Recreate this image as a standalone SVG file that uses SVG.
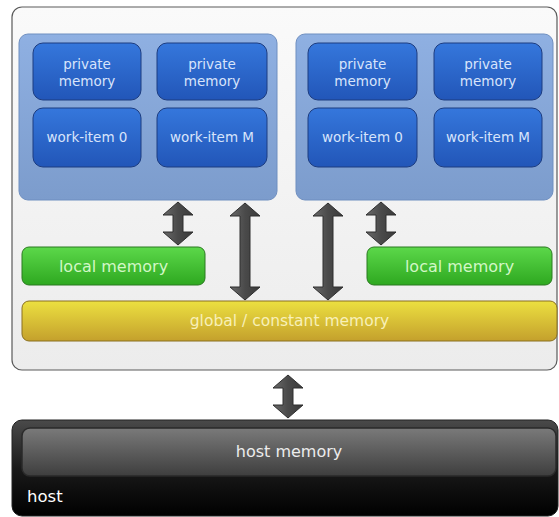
<svg xmlns="http://www.w3.org/2000/svg" width="559" height="517" viewBox="0 0 559 517">
<defs>
<linearGradient id="gDev" x1="0" y1="0" x2="0" y2="1"><stop offset="0" stop-color="#fafafa"/><stop offset="1" stop-color="#ececec"/></linearGradient>
<linearGradient id="gGrp" x1="0" y1="0" x2="0" y2="1"><stop offset="0" stop-color="#8fb0e2"/><stop offset="1" stop-color="#7c9ccc"/></linearGradient>
<linearGradient id="gItem" x1="0" y1="0" x2="0" y2="1"><stop offset="0" stop-color="#3577dc"/><stop offset="1" stop-color="#2256b8"/></linearGradient>
<linearGradient id="gLocal" x1="0" y1="0" x2="0" y2="1"><stop offset="0" stop-color="#5cd84a"/><stop offset="1" stop-color="#2ea820"/></linearGradient>
<linearGradient id="gGlobal" x1="0" y1="0" x2="0" y2="1"><stop offset="0" stop-color="#ece040"/><stop offset="1" stop-color="#c4a02c"/></linearGradient>
<linearGradient id="gHost" x1="0" y1="0" x2="0" y2="1"><stop offset="0" stop-color="#4a4a4a"/><stop offset="0.5" stop-color="#1a1a1a"/><stop offset="1" stop-color="#000"/></linearGradient>
<linearGradient id="gHostMem" x1="0" y1="0" x2="0" y2="1"><stop offset="0" stop-color="#7a7a7a"/><stop offset="1" stop-color="#3e3e3e"/></linearGradient>
<linearGradient id="gArrow" x1="0" y1="0" x2="1" y2="0"><stop offset="0" stop-color="#6a6a6a"/><stop offset="0.5" stop-color="#4a4a4a"/><stop offset="1" stop-color="#3a3a3a"/></linearGradient>
</defs>
<style>
.dev{fill:url(#gDev);stroke:#5a5a5a;stroke-width:1.2}
.grp{fill:url(#gGrp);stroke:#6f8fc0;stroke-width:1}
.item{fill:url(#gItem);stroke:#1c3c80;stroke-width:1}
.local{fill:url(#gLocal);stroke:#2a7a20;stroke-width:1}
.global{fill:url(#gGlobal);stroke:#8a7020;stroke-width:1}
.host{fill:url(#gHost);stroke:#222;stroke-width:1}
.hostmem{fill:url(#gHostMem);stroke:#2a2a2a;stroke-width:1.5}
.arr{fill:url(#gArrow);stroke:#2e2e2e;stroke-width:1}
text{font-family:"DejaVu Sans",Verdana,sans-serif;text-anchor:middle}
.ti{font-size:13.5px;fill:#d8e4fb}
.tl{font-size:16px;fill:#d2f7c6}
.tg{font-size:15.5px;fill:#f8f0b8}
.th{font-size:16px;fill:#ececec}
</style>
<rect x="0" y="0" width="559" height="517" fill="#ffffff"/>
<g id="device">
<rect class="dev" x="12" y="7" width="545" height="363" rx="10"/>
</g>
<g id="workgroup1">
<rect class="grp" x="19" y="34" width="258" height="166" rx="9"/>
</g>
<g id="workgroup2">
<rect class="grp" x="296" y="34" width="257" height="166" rx="9"/>
</g>
<g id="pm1"><rect class="item" x="33" y="43" width="108" height="57" rx="10"/><text class="ti" x="87" y="69">private</text><text class="ti" x="87" y="86">memory</text></g>
<g id="pm2"><rect class="item" x="157" y="43" width="110" height="57" rx="10"/><text class="ti" x="212" y="69">private</text><text class="ti" x="212" y="86">memory</text></g>
<g id="wi1"><rect class="item" x="33" y="108" width="108" height="59" rx="10"/><text class="ti" x="87" y="142">work-item 0</text></g>
<g id="wi2"><rect class="item" x="157" y="108" width="110" height="59" rx="10"/><text class="ti" x="212" y="142">work-item M</text></g>
<g id="pm3"><rect class="item" x="308" y="43" width="109" height="57" rx="10"/><text class="ti" x="362.5" y="69">private</text><text class="ti" x="362.5" y="86">memory</text></g>
<g id="pm4"><rect class="item" x="434" y="43" width="108" height="57" rx="10"/><text class="ti" x="488" y="69">private</text><text class="ti" x="488" y="86">memory</text></g>
<g id="wi3"><rect class="item" x="308" y="108" width="109" height="59" rx="10"/><text class="ti" x="362.5" y="142">work-item 0</text></g>
<g id="wi4"><rect class="item" x="434" y="108" width="108" height="59" rx="10"/><text class="ti" x="488" y="142">work-item M</text></g>
<g id="local1"><rect class="local" x="22" y="247" width="183" height="38" rx="7"/><text class="tl" x="113.5" y="272">local memory</text></g>
<g id="local2"><rect class="local" x="367" y="247" width="185" height="38" rx="7"/><text class="tl" x="459.5" y="272">local memory</text></g>
<g id="global"><rect class="global" x="22" y="301" width="535" height="40" rx="7"/><text class="tg" x="289.5" y="326">global / constant memory</text></g>
<g id="host"><rect class="host" x="12" y="420" width="546" height="96" rx="10"/><text class="th" x="27" y="502" style="fill:#ffffff;text-anchor:start;font-size:16.5px">host</text></g>
<g id="hostmem"><rect class="hostmem" x="22" y="428" width="534" height="48" rx="8"/><text class="th" x="289" y="457">host memory</text></g>
<g id="connectors">
<polygon class="arr" points="178,202 193,215 183,215 183,232 193,232 178,245 163,232 173,232 173,215 163,215"/>
<polygon class="arr" points="245,203 260,216 250,216 250,287 260,287 245,300 230,287 240,287 240,216 230,216"/>
<polygon class="arr" points="328,203 343,216 333,216 333,287 343,287 328,300 313,287 323,287 323,216 313,216"/>
<polygon class="arr" points="381,202 396,215 386,215 386,232 396,232 381,245 366,232 376,232 376,215 366,215"/>
<polygon class="arr" points="288,375 303,388 293,388 293,405 303,405 288,418 273,405 283,405 283,388 273,388"/>
</g>
</svg>
